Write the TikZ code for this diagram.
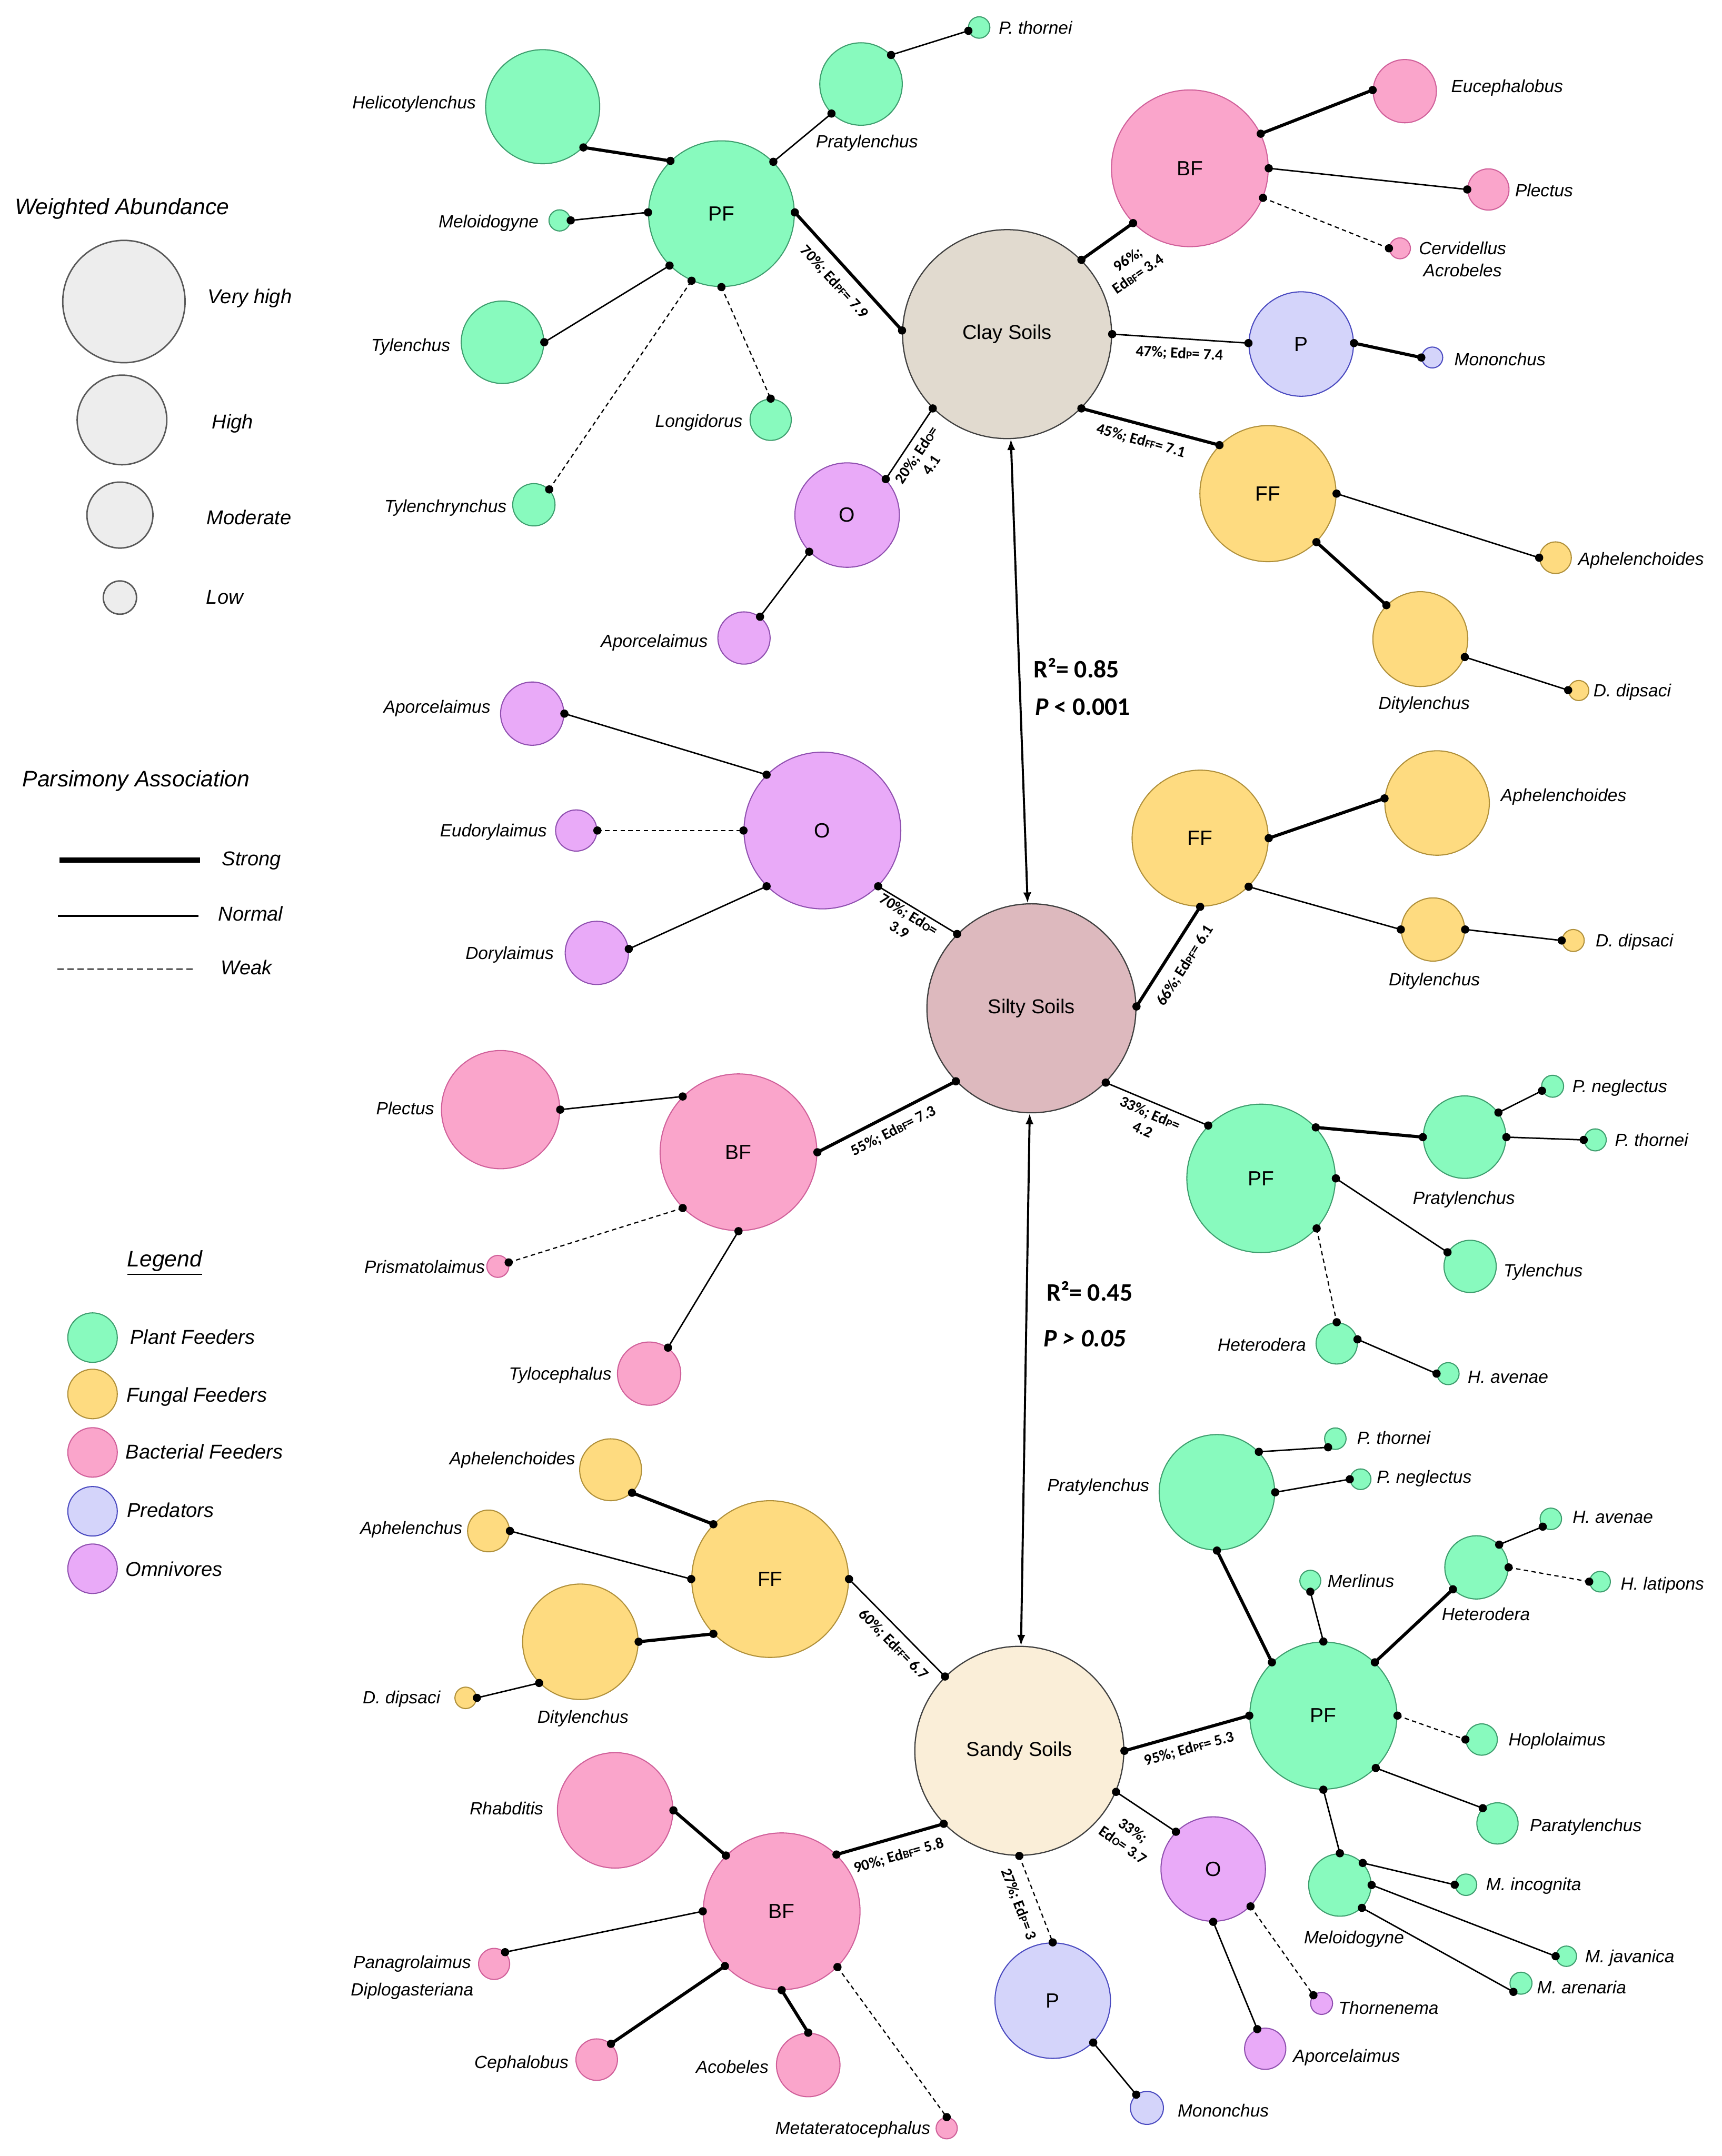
\documentclass[tikz,border=0pt]{standalone}
\usepackage{fontspec}
\setmainfont{Liberation Sans}
\newfontfamily\carlito{Carlito}
\usetikzlibrary{arrows.meta}
\definecolor{pfc}{HTML}{88FABE}\definecolor{pfd}{HTML}{3E9E6E}
\definecolor{ffc}{HTML}{FEDB80}\definecolor{ffd}{HTML}{B0903A}
\definecolor{bfc}{HTML}{FAA5CB}\definecolor{bfd}{HTML}{D0609A}
\definecolor{prc}{HTML}{D4D4FA}\definecolor{prd}{HTML}{4A4AC0}
\definecolor{omc}{HTML}{E9AAF8}\definecolor{omd}{HTML}{9050B0}
\definecolor{clayc}{HTML}{E1DACF}\definecolor{siltyc}{HTML}{DDB9BE}\definecolor{sandyc}{HTML}{FAEED8}
\definecolor{wac}{HTML}{EDEDED}
\newcommand\edsub[1]{{\fontsize{4.6}{5}\selectfont #1}}
\newcommand\linkit[3]{\draw[#1] (#2) -- (#3) node[dot,pos=0]{} node[dot,pos=1]{};}
\begin{document}
\begin{tikzpicture}[x=0.02cm,y=-0.02cm,
  base/.style={circle,inner sep=0pt,line width=0.45pt,font=\fontsize{8.5}{10}\selectfont},
  pf/.style={base,draw=pfd,fill=pfc,minimum size={#1*0.04cm}},
  ff/.style={base,draw=ffd,fill=ffc,minimum size={#1*0.04cm}},
  bf/.style={base,draw=bfd,fill=bfc,minimum size={#1*0.04cm}},
  pr/.style={base,draw=prd,fill=prc,minimum size={#1*0.04cm}},
  om/.style={base,draw=omd,fill=omc,minimum size={#1*0.04cm}},
  wa/.style={circle,inner sep=0pt,draw=black!65,fill=wac,line width=0.6pt,minimum size={#1*0.04cm}},
  soil/.style={circle,inner sep=0pt,draw=black!75,line width=0.5pt,minimum size=3.04cm,font=\fontsize{8.3}{10}\selectfont},
  lab/.style={font=\itshape\fontsize{7.3}{9}\selectfont,inner sep=0pt},
  leg/.style={font=\itshape\fontsize{8.3}{10}\selectfont,inner sep=0pt},
  ttl/.style={font=\itshape\fontsize{9.3}{11}\selectfont,inner sep=0pt},
  elab/.style={font=\carlito\bfseries\fontsize{6.4}{7.4}\selectfont,align=center,inner sep=0pt},
  rlab/.style={font=\carlito\bfseries\fontsize{10.4}{12}\selectfont,inner sep=0pt,anchor=mid west},
  sline/.style={line width=1.3pt},
  nline/.style={line width=0.6pt},
  wline/.style={line width=0.5pt,dash pattern=on 1.8pt off 1.4pt},
  dot/.style={circle,fill=black,inner sep=0pt,minimum size=3.4pt},
  sarrow/.style={{Latex[length=4.5pt,width=3.4pt]}-{Latex[length=4.5pt,width=3.4pt]},line width=0.85pt}]
\useasboundingbox (0,0) rectangle (1252,1568);
\fill[white] (0,0) rectangle (1252,1568);

% ---------- legends ----------
\node[ttl,anchor=mid west] (tWA) at (10.4,151.2) {Weighted Abundance};
\node[wa=44.5] (wa1) at (90.1,219.3) {};
\node[wa=32.6] (wa2) at (88.7,305.4) {};
\node[wa=24] (wa3) at (87.2,374.6) {};
\node[wa=12.1] (wa4) at (87.2,434.6) {};
\node[leg,anchor=mid west] (twa1) at (150.8,216.2) {Very high};
\node[leg,anchor=mid west] (twa2) at (153.8,307.1) {High};
\node[leg,anchor=mid west] (twa3) at (150,377) {Moderate};
\node[leg,anchor=mid west] (twa4) at (149.7,434.7) {Low};

\node[ttl,anchor=mid west] (tPA) at (16,567.6) {Parsimony Association};
\coordinate (ls1) at (43.4,625.4); \coordinate (le1) at (145.4,625.4);
\coordinate (ls2) at (42.3,666); \coordinate (le2) at (144.4,666);
\coordinate (ls3) at (41.9,704.8); \coordinate (le3) at (141.6,704.8);
\draw[line width=2.2pt] (ls1) -- (le1);
\draw[line width=0.9pt] (ls2) -- (le2);
\draw[line width=0.5pt,dash pattern=on 2.6pt off 1.5pt] (ls3) -- (le3);
\node[leg,anchor=mid west] (tst) at (161.1,624.8) {Strong};
\node[leg,anchor=mid west] (tno) at (158.4,665) {Normal};
\node[leg,anchor=mid west] (twe) at (160.4,704.2) {Weak};

\node[ttl] (tLeg) at (119.8,918.6) {\underline{Legend}};
\node[pf=18] (lg1) at (67.3,972.8) {};
\node[ff=18] (lg2) at (67.3,1013.8) {};
\node[bf=18] (lg3) at (67.3,1056.3) {};
\node[pr=18] (lg4) at (67.3,1099.1) {};
\node[om=18] (lg5) at (67.3,1140.9) {};
\node[leg,anchor=mid west] (tlg1) at (94.4,972.7) {Plant Feeders};
\node[leg,anchor=mid west] (tlg2) at (91.7,1015) {Fungal Feeders};
\node[leg,anchor=mid west] (tlg3) at (91.1,1056.5) {Bacterial Feeders};
\node[leg,anchor=mid west] (tlg4) at (92.1,1098.9) {Predators};
\node[leg,anchor=mid west] (tlg5) at (90.9,1141.7) {Omnivores};

% ---------- soils ----------
\node[soil,fill=clayc] (clay) at (732.3,243) {Clay Soils};
\node[soil,fill=siltyc] (silty) at (750,733.3) {Silty Soils};
\node[soil,fill=sandyc] (sandy) at (741.2,1273.3) {Sandy Soils};
\draw[sarrow] (clay) -- (silty);
\draw[sarrow] (silty) -- (sandy);
\node[rlab] (r1) at (751.2,488.2) {R²= 0.85};
\node[rlab] (r2) at (752.5,515.3) {\itshape P\upshape{} < 0.001};
\node[rlab] (r3) at (760.8,941.6) {R²= 0.45};
\node[rlab] (r4) at (758.5,974.8) {\itshape P > 0.05};

% ---------- clay cluster ----------
\node[pf=53] (cPF) at (524.6,155.4) {PF};
\node[pf=41.5] (cHel) at (394.6,77.6) {};
\node[pf=30] (cPra) at (626.1,61.1) {};
\node[pf=7.8] (cPth) at (712,20) {};
\node[pf=7.7] (cMel) at (406.9,160.3) {};
\node[pf=30] (cTyl) at (365.4,248.9) {};
\node[pf=15] (cLon) at (560.4,305.3) {};
\node[pf=15.4] (cTyr) at (388.2,367.1) {};
\node[bf=57] (cBF) at (865.2,122.4) {BF};
\node[bf=23] (cEuc) at (1021.5,66.3) {};
\node[bf=15] (cPle) at (1082.3,137.8) {};
\node[bf=7.6] (cCer) at (1018,180.6) {};
\node[pr=38] (cP) at (946.2,250.2) {P};
\node[pr=7.6] (cMon) at (1041.5,260) {};
\node[ff=49.5] (cFF) at (922,359) {FF};
\node[ff=11.5] (cAph) at (1131.1,405.6) {};
\node[ff=34.5] (cDit) at (1032.8,464.8) {};
\node[ff=7.3] (cDdi) at (1148,502.2) {};
\node[om=38] (cO) at (616,374.6) {O};
\node[om=19] (cApo) at (541,464) {};

% ---------- silty cluster ----------
\node[om=57] (sO) at (598,604) {O};
\node[om=23] (sApo) at (387,519) {};
\node[om=15] (sEud) at (419,604) {};
\node[om=23] (sDor) at (434,693) {};
\node[ff=49.5] (sFF) at (872.7,609.6) {FF};
\node[ff=38] (sAph) at (1045,584) {};
\node[ff=23] (sDit) at (1042,676) {};
\node[ff=8] (sDdi) at (1144,684) {};
\node[bf=57] (sBF) at (537,838) {BF};
\node[bf=43] (sPle) at (364,807) {};
\node[bf=8] (sPri) at (362,921) {};
\node[bf=23] (sTyc) at (472,999) {};
\node[pf=54] (sPF) at (917,857) {PF};
\node[pf=30] (sPra) at (1065,827) {};
\node[pf=8] (sPne) at (1129,790) {};
\node[pf=8] (sPth) at (1160,829) {};
\node[pf=19] (sTyl) at (1069,921) {};
\node[pf=15] (sHet) at (972,977) {};
\node[pf=8] (sHav) at (1053,999) {};

% ---------- sandy cluster ----------
\node[ff=57] (dFF) at (560,1148.4) {FF};
\node[ff=22.5] (dAph) at (444,1068.9) {};
\node[ff=15.2] (dApu) at (355.2,1113.4) {};
\node[ff=42] (dDit) at (422,1194) {};
\node[ff=7.8] (dDdi) at (338.6,1234.8) {};
\node[bf=57] (dBF) at (568.4,1390) {BF};
\node[bf=42] (dRha) at (447.3,1316.6) {};
\node[bf=11.3] (dPan) at (359.3,1428.3) {};
\node[bf=15.1] (dCep) at (433.9,1497.9) {};
\node[bf=23.1] (dAco) at (587.7,1501.8) {};
\node[bf=7.7] (dMet) at (688.4,1547.8) {};
\node[pr=42] (dP) at (765.5,1455) {P};
\node[pr=12] (dMon) at (834,1533) {};
\node[om=38] (dO) at (882.2,1359.3) {O};
\node[om=15] (dApo) at (920,1490) {};
\node[om=8] (dTho) at (961,1457) {};
\node[pf=53.5] (dPF) at (962.3,1247.7) {PF};
\node[pf=42] (dPra) at (884.9,1085.3) {};
\node[pf=7.8] (dPth) at (971,1046.3) {};
\node[pf=7.5] (dPne) at (989.4,1075.8) {};
\node[pf=7.6] (dMer) at (952.8,1149.6) {};
\node[pf=23] (dHet) at (1073.6,1139.9) {};
\node[pf=7.8] (dHav) at (1127.7,1104.6) {};
\node[pf=7.5] (dHla) at (1163.5,1150.3) {};
\node[pf=11.4] (dHop) at (1077.4,1265.1) {};
\node[pf=15] (dPar) at (1088.9,1326.1) {};
\node[pf=22.7] (dMel) at (974.3,1370.9) {};
\node[pf=7.8] (dMin) at (1066,1370.7) {};
\node[pf=7.4] (dMja) at (1139,1422.7) {};
\node[pf=8] (dMar) at (1106,1442.3) {};

% ---------- connectors: clay ----------
\linkit{sline}{cPF.1}{clay.178}
\linkit{sline}{cHel.315}{cPF.134}
\linkit{nline}{cPF.45}{cPra.225}
\linkit{nline}{cPra.44}{cPth.197}
\linkit{nline}{cMel.0}{cPF.179}
\linkit{nline}{cTyl.0}{cPF.225}
\linkit{wline}{cTyr.45}{cPF.246}
\linkit{wline}{cPF.270}{cLon.90}
\linkit{sline}{clay.45}{cBF.224}
\linkit{sline}{cBF.26}{cEuc.178}
\linkit{nline}{cBF.0}{cPle.180}
\linkit{wline}{cBF.338}{cCer.180}
\linkit{nline}{clay.0}{cP.179}
\linkit{sline}{cP.1}{cMon.180}
\linkit{sline}{clay.315}{cFF.135}
\linkit{nline}{cFF.0}{cAph.180}
\linkit{sline}{cFF.315}{cDit.135}
\linkit{nline}{cDit.338}{cDdi.178}
\linkit{nline}{clay.225}{cO.43}
\linkit{nline}{cO.224}{cApo.53}

% ---------- connectors: silty ----------
\linkit{nline}{sO.315}{silty.135}
\linkit{nline}{sApo.0}{sO.135}
\linkit{wline}{sEud.0}{sO.180}
\linkit{nline}{sDor.7}{sO.225}
\linkit{sline}{silty.1}{sFF.270}
\linkit{sline}{sFF.0}{sAph.175}
\linkit{nline}{sFF.315}{sDit.180}
\linkit{nline}{sDit.0}{sDdi.180}
\linkit{sline}{sBF.0}{silty.224}
\linkit{nline}{sPle.0}{sBF.135}
\linkit{wline}{sPri.20}{sBF.225}
\linkit{nline}{sTyc.54}{sBF.270}
\linkit{nline}{silty.315}{sPF.135}
\linkit{sline}{sPF.43}{sPra.180}
\linkit{nline}{sPra.36}{sPne.203}
\linkit{nline}{sPra.0}{sPth.180}
\linkit{nline}{sPF.0}{sTyl.148}
\linkit{wline}{sPF.318}{sHet.90}
\linkit{nline}{sHet.11}{sHav.180}

% ---------- connectors: sandy ----------
\linkit{nline}{dFF.0}{sandy.135}
\linkit{sline}{dAph.313}{dFF.136}
\linkit{nline}{dApu.0}{dFF.180}
\linkit{sline}{dDit.0}{dFF.224}
\linkit{nline}{dDdi.0}{dDit.225}
\linkit{sline}{dBF.46}{sandy.224}
\linkit{sline}{dRha.0}{dBF.135}
\linkit{nline}{dPan.47}{dBF.180}
\linkit{sline}{dCep.48}{dBF.224}
\linkit{sline}{dAco.90}{dBF.270}
\linkit{wline}{dBF.315}{dMet.90}
\linkit{wline}{sandy.270}{dP.90}
\linkit{nline}{dP.314}{dMon.129}
\linkit{nline}{sandy.337}{dO.135}
\linkit{nline}{dO.270}{dApo.112}
\linkit{wline}{dO.315}{dTho.135}
\linkit{sline}{sandy.0}{dPF.180}
\linkit{sline}{dPra.270}{dPF.134}
\linkit{nline}{dPra.44}{dPth.230}
\linkit{nline}{dPra.0}{dPne.180}
\linkit{nline}{dMer.270}{dPF.90}
\linkit{sline}{dPF.46}{dHet.223}
\linkit{nline}{dHet.45}{dHav.224}
\linkit{wline}{dHet.0}{dHla.180}
\linkit{wline}{dPF.0}{dHop.180}
\linkit{nline}{dPF.315}{dPar.134}
\linkit{nline}{dPF.270}{dMel.90}
\linkit{nline}{dMel.44}{dMin.180}
\linkit{nline}{dMel.0}{dMja.180}
\linkit{nline}{dMel.314}{dMar.229}

% ---------- edge labels ----------
\node[elab,rotate=-47.5] (e1) at (606.5,205.2) {70\%; Ed\edsub{PF}= 7.9};
\node[elab,rotate=34.5] (e2) at (823.8,193.8) {96\%;\\Ed\edsub{BF}= 3.4};
\node[elab,rotate=-3] (e3) at (857.6,257.3) {47\%; Ed\edsub{P}= 7.4};
\node[elab,rotate=-15.5] (e4) at (829.7,320.7) {45\%; Ed\edsub{FF}= 7.1};
\node[elab,rotate=56] (e5) at (671.8,334.3) {20\%; Ed\edsub{O}=\\4.1};
\node[elab,rotate=-31.8] (e6) at (657.6,670.4) {70\%; Ed\edsub{O}=\\3.9};
\node[elab,rotate=57.6] (e7) at (861.8,702.2) {66\%; Ed\edsub{PF}= 6.1};
\node[elab,rotate=27] (e8) at (649.7,822.7) {55\%; Ed\edsub{BF}= 7.3};
\node[elab,rotate=-23.8] (e9) at (833.8,815.5) {33\%; Ed\edsub{P}=\\4.2};
\node[elab,rotate=-45.3] (e10) at (649.5,1196) {60\%; Ed\edsub{FF}= 6.7};
\node[elab,rotate=15.6] (e11) at (864.8,1272) {95\%; Ed\edsub{PF}= 5.3};
\node[elab,rotate=-34.7] (e12) at (820.4,1336.4) {33\%;\\Ed\edsub{O}= 3.7};
\node[elab,rotate=16.3] (e13) at (653.7,1349.7) {90\%; Ed\edsub{BF}= 5.8};
\node[elab,rotate=-69.4] (e14) at (740.5,1385) {27\%; Ed\edsub{P}= 3};

% ---------- species labels: clay ----------
\node[lab,anchor=mid east] (a1) at (346.4,74.5) {Helicotylenchus};
\node[lab,anchor=mid] (a2) at (630.4,102.6) {Pratylenchus};
\node[lab,anchor=mid west] (a3) at (726,20) {P. thornei};
\node[lab,anchor=mid east] (a4) at (392,160.9) {Meloidogyne};
\node[lab,anchor=mid east] (a5) at (327.7,251) {Tylenchus};
\node[lab,anchor=mid east] (a6) at (540.3,306) {Longidorus};
\node[lab,anchor=mid east] (a7) at (368.7,367.9) {Tylenchrynchus};
\node[lab,anchor=mid west] (a8) at (1054.9,62.6) {Eucephalobus};
\node[lab,anchor=mid west] (a9) at (1101.4,138.4) {Plectus};
\node[lab,align=center,font=\itshape\fontsize{7.3}{9}\selectfont] (a10) at (1063.5,188.6) {Cervidellus\\Acrobeles};
\node[lab,anchor=mid west] (a11) at (1057.2,261.3) {Mononchus};
\node[lab,anchor=mid west] (a12) at (1147.4,406.2) {Aphelenchoides};
\node[lab,anchor=mid] (a13) at (1035.6,511.1) {Ditylenchus};
\node[lab,anchor=mid west] (a14) at (1158.4,502) {D. dipsaci};
\node[lab,anchor=mid east] (a15) at (515,466) {Aporcelaimus};

% ---------- species labels: silty ----------
\node[lab,anchor=mid east] (b1) at (357,514) {Aporcelaimus};
\node[lab,anchor=mid east] (b2) at (398,604) {Eudorylaimus};
\node[lab,anchor=mid east] (b3) at (403,693) {Dorylaimus};
\node[lab,anchor=mid west] (b4) at (1091,578) {Aphelenchoides};
\node[lab,anchor=mid] (b5) at (1043,712) {Ditylenchus};
\node[lab,anchor=mid west] (b6) at (1160,684) {D. dipsaci};
\node[lab,anchor=mid east] (b7) at (316,806) {Plectus};
\node[lab,anchor=mid east] (b8) at (353,921) {Prismatolaimus};
\node[lab,anchor=mid east] (b9) at (445,999) {Tylocephalus};
\node[lab,anchor=mid] (b10) at (1064.5,871) {Pratylenchus};
\node[lab,anchor=mid west] (b11) at (1143,790) {P. neglectus};
\node[lab,anchor=mid west] (b12) at (1174,829) {P. thornei};
\node[lab,anchor=mid west] (b13) at (1093,924) {Tylenchus};
\node[lab,anchor=mid east] (b14) at (950,978) {Heterodera};
\node[lab,anchor=mid west] (b15) at (1067,1001) {H. avenae};

% ---------- species labels: sandy ----------
\node[lab,anchor=mid east] (c1) at (418.5,1060.4) {Aphelenchoides};
\node[lab,anchor=mid east] (c2) at (336.5,1111.1) {Aphelenchus};
\node[lab,anchor=mid] (c3) at (423.9,1248.5) {Ditylenchus};
\node[lab,anchor=mid east] (c4) at (320.5,1234.3) {D. dipsaci};
\node[lab,anchor=mid east] (c5) at (395.4,1315.2) {Rhabditis};
\node[lab,align=center,font=\itshape\fontsize{7.3}{11.3}\selectfont] (c6) at (299.7,1438) {Panagrolaimus\\Diplogasteriana};
\node[lab,anchor=mid east] (c7) at (413.8,1499.6) {Cephalobus};
\node[lab,anchor=mid east] (c8) at (559.2,1503.2) {Acobeles};
\node[lab,anchor=mid east] (c9) at (676.8,1547.5) {Metateratocephalus};
\node[lab,anchor=mid west] (c10) at (856,1535) {Mononchus};
\node[lab,anchor=mid west] (c11) at (940,1495) {Aporcelaimus};
\node[lab,anchor=mid west] (c12) at (973,1460) {Thornenema};
\node[lab,anchor=mid east] (c13) at (836,1080) {Pratylenchus};
\node[lab,anchor=mid west] (c14) at (986.5,1045.5) {P. thornei};
\node[lab,anchor=mid west] (c15) at (1000.8,1073.8) {P. neglectus};
\node[lab,anchor=mid west] (c16) at (965,1149.7) {Merlinus};
\node[lab,anchor=mid] (c17) at (1080.5,1174) {Heterodera};
\node[lab,anchor=mid west] (c18) at (1143.2,1103.2) {H. avenae};
\node[lab,anchor=mid west] (c19) at (1178.2,1151.7) {H. latipons};
\node[lab,anchor=mid west] (c20) at (1096.6,1265.1) {Hoplolaimus};
\node[lab,anchor=mid west] (c21) at (1112.1,1327.4) {Paratylenchus};
\node[lab,anchor=mid] (c22) at (984.6,1408.8) {Meloidogyne};
\node[lab,anchor=mid west] (c23) at (1080.3,1370.2) {M. incognita};
\node[lab,anchor=mid west] (c24) at (1152.3,1422.5) {M. javanica};
\node[lab,anchor=mid west] (c25) at (1117.3,1445.3) {M. arenaria};
\end{tikzpicture}
\end{document}
